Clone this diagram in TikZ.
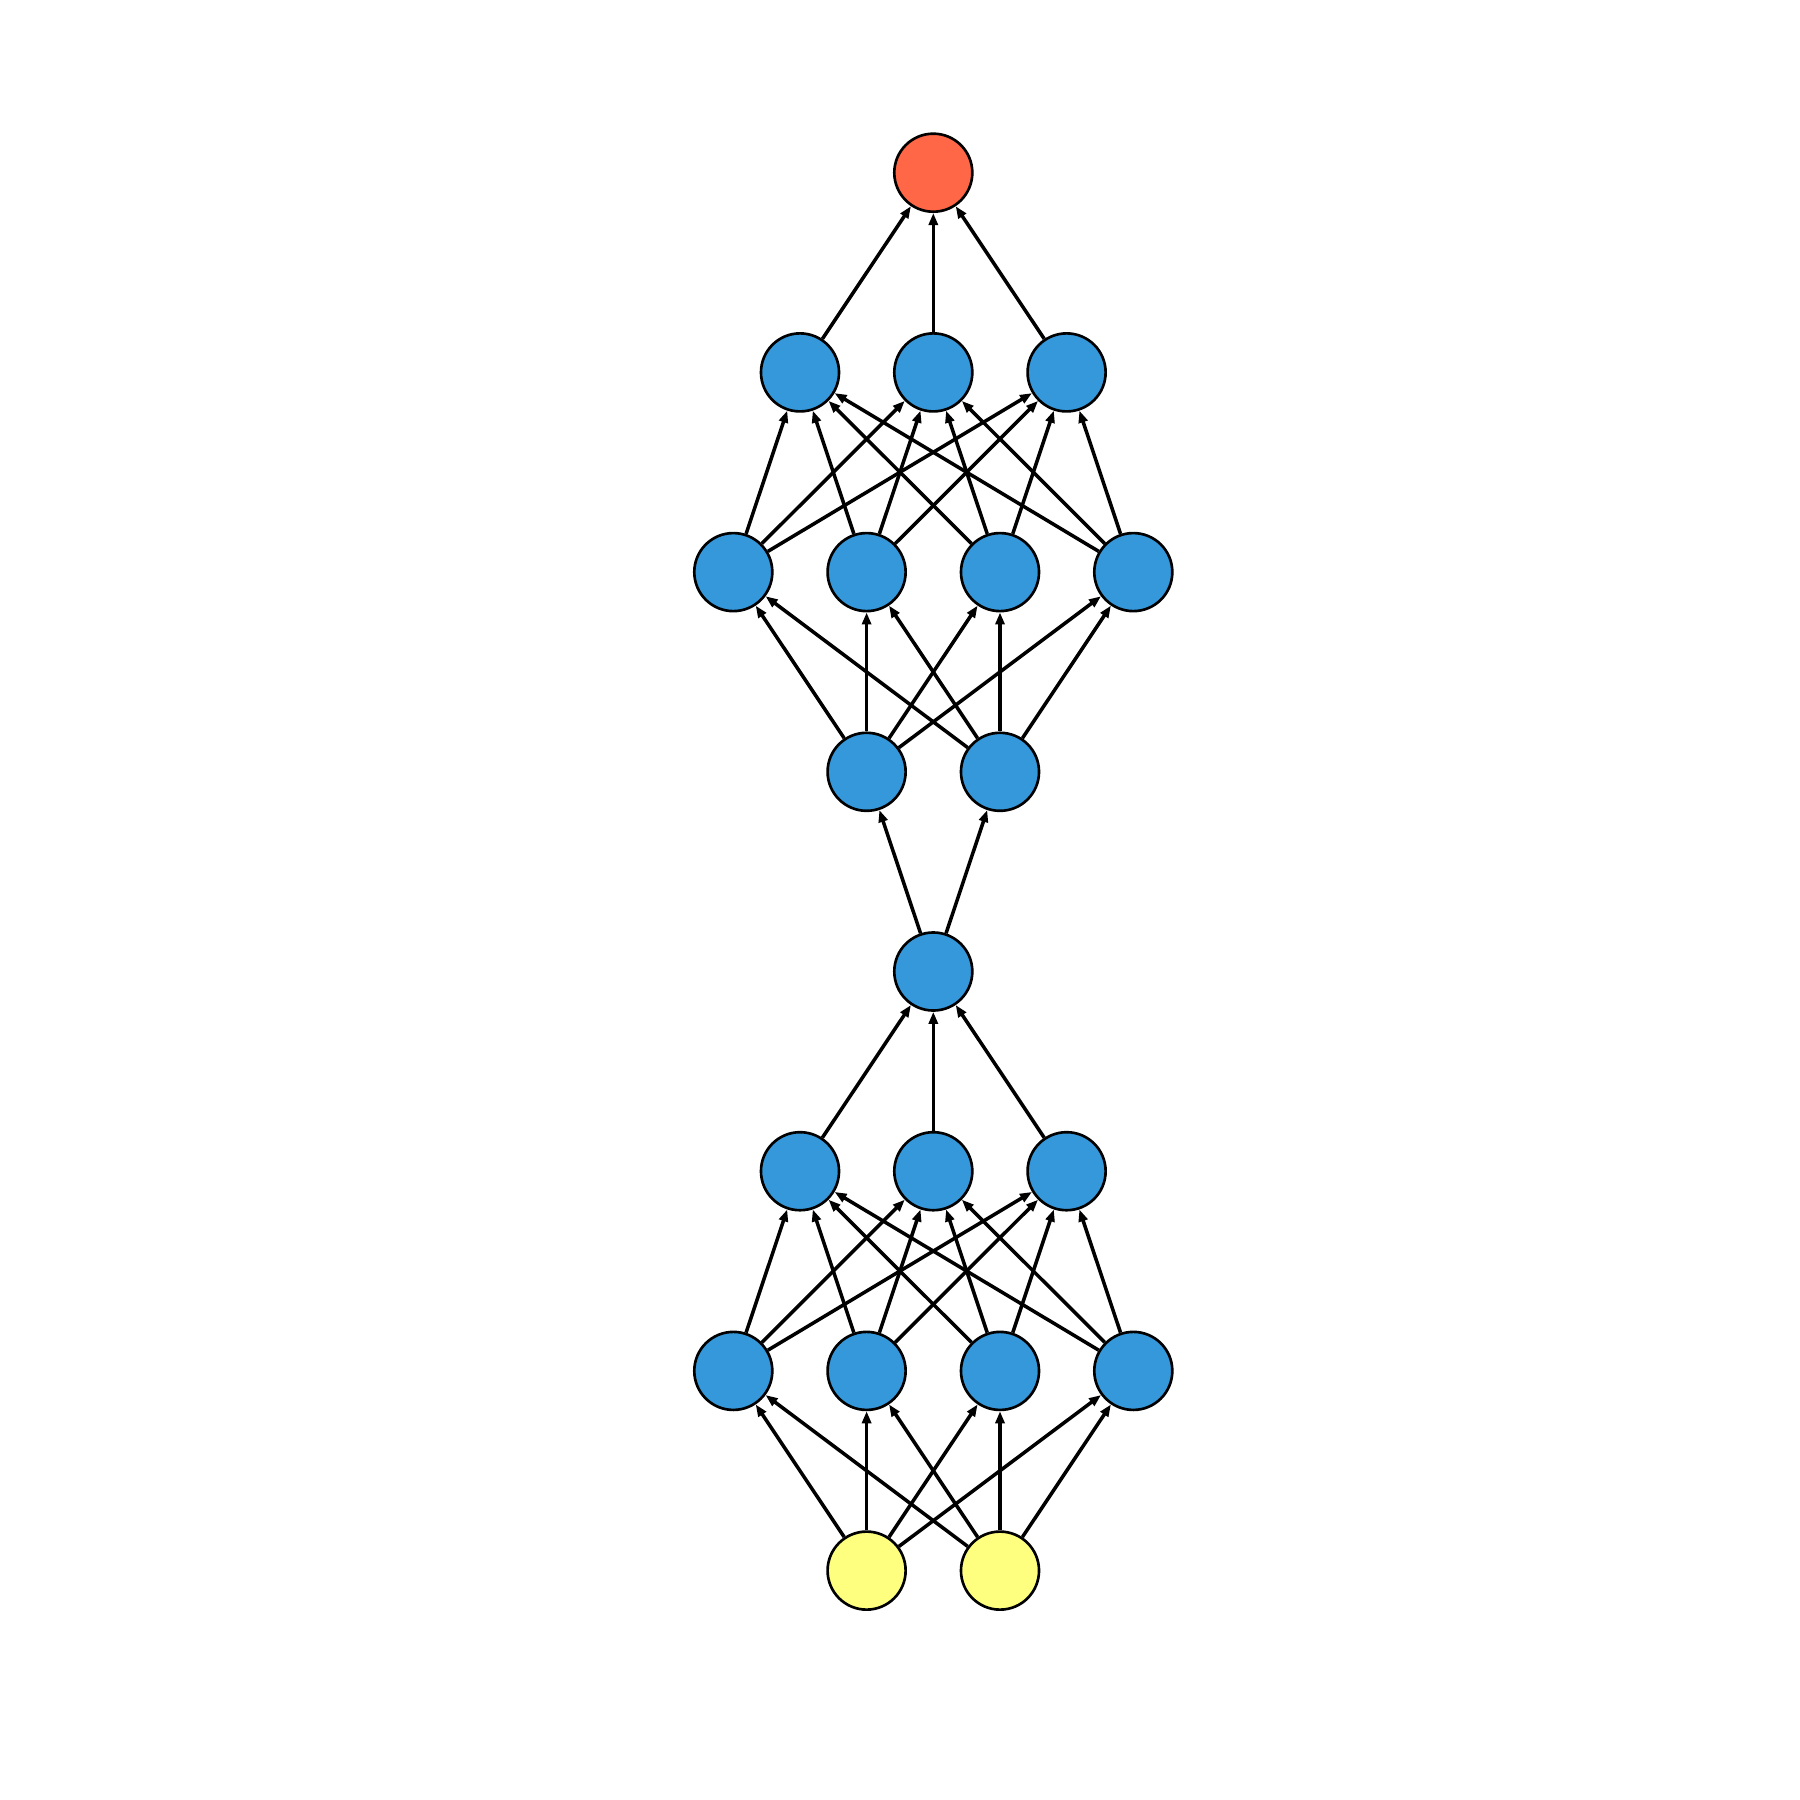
\documentclass[tikz,border=0pt]{standalone}
\usetikzlibrary{arrows.meta}
\definecolor{nblue}{RGB}{52,152,219}
\definecolor{nred}{RGB}{255,103,71}
\definecolor{nyellow}{RGB}{255,255,127}
\tikzset{
  neuron/.style={circle,draw=black,line width=0.75pt,minimum size=7.8mm,inner sep=0pt},
  hid/.style={neuron,fill=nblue},
  outn/.style={neuron,fill=nred},
  inn/.style={neuron,fill=nyellow},
  edge/.style={line width=1.0pt,-{Triangle[length=1.2mm,width=0.9mm]}}
}
\begin{document}
\begin{tikzpicture}[x=0.01cm,y=-0.01cm]
\useasboundingbox (0,0) rectangle (1800,1800);
\def\cx{933.3}
\def\dy{199.7}
% nodes
\node[outn] (o) at (\cx,172.7) {};
\foreach \i/\dx in {1/-133.3,2/0,3/133.3}{
  \node[hid] (a\i) at (\cx+\dx,172.7+\dy) {};
  \node[hid] (e\i) at (\cx+\dx,172.7+5*\dy) {};
}
\foreach \i/\dx in {1/-200,2/-66.7,3/66.7,4/200}{
  \node[hid] (b\i) at (\cx+\dx,172.7+2*\dy) {};
  \node[hid] (f\i) at (\cx+\dx,172.7+6*\dy) {};
}
\foreach \i/\dx in {1/-66.7,2/66.7}{
  \node[hid] (c\i) at (\cx+\dx,172.7+3*\dy) {};
  \node[inn] (g\i) at (\cx+\dx,172.7+7*\dy) {};
}
\node[hid] (m) at (\cx,172.7+4*\dy) {};
% connectors
\foreach \i in {1,2,3}{
  \draw[edge] (a\i) -- (o);
  \draw[edge] (e\i) -- (m);
  \foreach \j in {1,2,3,4}{
    \draw[edge] (b\j) -- (a\i);
    \draw[edge] (f\j) -- (e\i);
  }
}
\foreach \i in {1,2}{
  \draw[edge] (m) -- (c\i);
  \foreach \j in {1,2,3,4}{
    \draw[edge] (c\i) -- (b\j);
    \draw[edge] (g\i) -- (f\j);
  }
}
\end{tikzpicture}
\end{document}
